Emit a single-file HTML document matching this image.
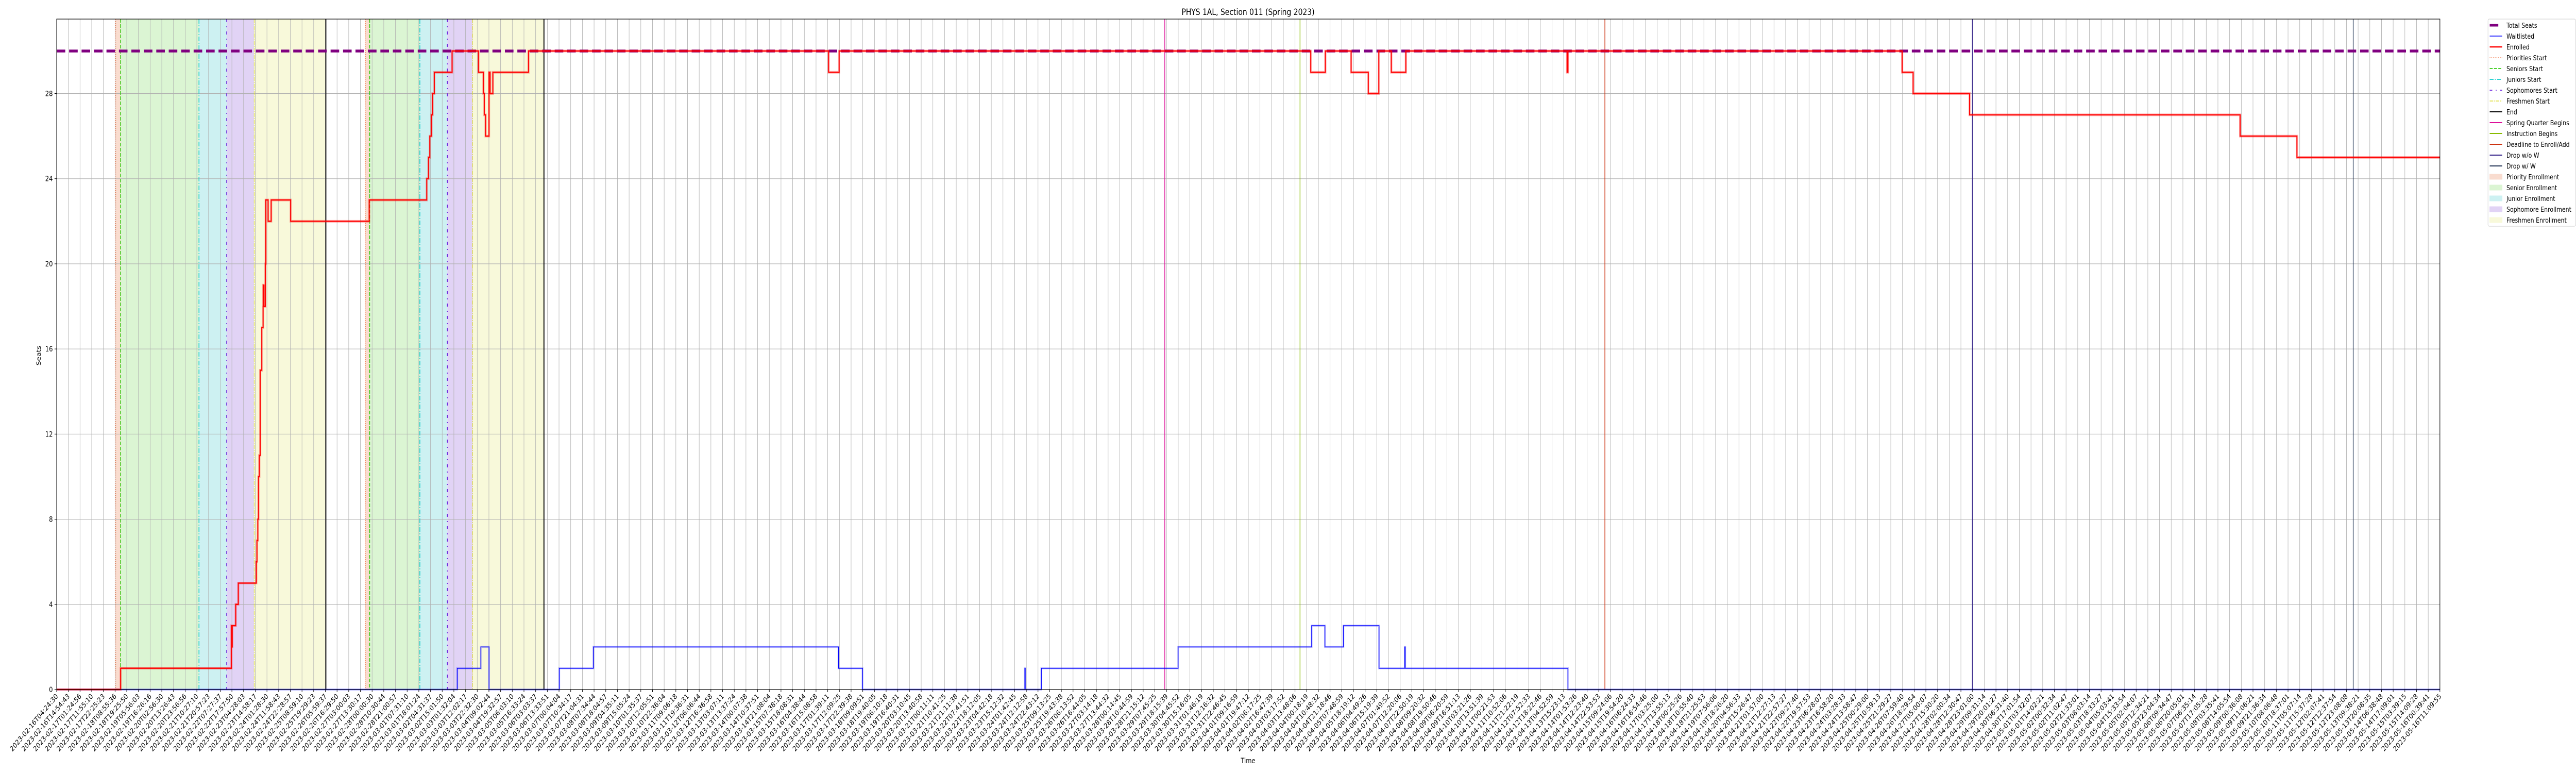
<!DOCTYPE html>
<html><head><meta charset="utf-8">
<style>
html,body{margin:0;padding:0;background:#fff;width:100%;height:100%;overflow:hidden;}
svg{display:block;width:100vw;height:100vh;font-family:"DejaVu Sans","Liberation Sans",sans-serif;}
</style></head>
<body>
<svg id="chart" viewBox="0 0 6000 1500" preserveAspectRatio="none" xmlns="http://www.w3.org/2000/svg" overflow="hidden">
<text x="2907" y="29" font-size="16.7" text-anchor="middle">PHYS 1AL, Section 011 (Spring 2023)</text>
<g id="spans"></g>
<g id="grid"></g>
<g id="events"></g>
<g id="series"></g>
<g id="axes"></g>
<text x="2907" y="1481" font-size="13.9" text-anchor="middle">Time</text>
<text transform="translate(95,690) rotate(-90)" font-size="13.9" text-anchor="middle">Seats</text>
<g id="legend"></g>
</svg>
<script>
// ---- data (hours since 2023-02-16T04:24:30) ----
const totalSeats = 30;
const enrolledTimes = [0,57.52,157.11,157.49,157.88,160.97,163.29,179.50,180.08,180.85,181.43,182.21,182.98,184.41,185.60,185.68,186.45,187.61,187.99,190.11,192.85,210.38,281.02,332.74,334.29,335.45,336.99,337.96,339.54,355.52,379.26,383.70,384.47,385.63,388.72,389.68,392.19,424.23,694.05,703.51,1127.54,1140.67,1163.83,1179.27,1188.73,1199.96,1213.05,1358.0,1358.8,1659.28,1669.13,1719.88,1963.15,2014.22];
const enrolledValues = [0,1,3,2,3,4,5,6,7,8,10,11,15,17,18,19,18,20,23,22,23,22,23,24,25,26,27,28,29,30,29,28,27,26,29,28,29,30,29,30,29,30,29,28,30,29,30,29,30,29,28,27,26,25];
const waitTimes = [0,360.14,381.38,388.72,451.87,482.52,702.94,724.55,870.47,870.86,885.33,1008.28,1128.33,1140.30,1156.89,1188.93,1212.09,1212.48,1358.78];
const waitValues = [0,1,2,0,1,2,1,0,1,0,1,2,3,2,3,1,2,1,0];
const periodNames = ["priority","senior","junior","sophomore","freshmen","priority","senior","junior","sophomore","freshmen"];
const periodStarts = [53.08,57.52,127.96,152.86,177.56,277.54,281.40,326.56,351.27,374.05];
const periodEnds = [57.52,127.96,152.86,177.56,242.03,281.40,326.56,351.27,374.05,438.12];
const endTimes = [242.03,438.12];
const calendarNames = ["spring","instruction","deadline","dropnow","dropw"];
const calendarTimes = [996.3,1117.9,1392.0,1722.4,2064.8];
const yTicks = [0,4,8,12,16,20,24,28];
const tickCount = 205;
const tStartMs = Date.UTC(2023,1,16,4,24,30);
const tEndHours = 2142.757;

// ---- scales ----
const X0=132, X1=5683, Y0=1338, YT=37, YMAX=31.5;
function xs(h){return X0 + h/tEndHours*(X1-X0);}
function ys(v){return Y0 - v/YMAX*(Y0-YT);}
const NS="http://www.w3.org/2000/svg";
function mk(tag,attrs,parent){const e=document.createElementNS(NS,tag);for(const k in attrs)e.setAttribute(k,attrs[k]);parent.appendChild(e);return e;}

const spanColor={priority:"#f9dccf",senior:"#dbf5d3",junior:"#cdf1f2",sophomore:"#e1d3f5",freshmen:"#f8f9da"};
const startStyle={
 priority:{c:"#f07040",d:"1.5,2.5",w:1.5},
 senior:{c:"#33cc11",d:"7,3",w:1.8},
 junior:{c:"#11cccc",d:"9,3,2,3",w:1.8},
 sophomore:{c:"#6a22dd",d:"6,8,2,8",w:1.8},
 freshmen:{c:"#dddd33",d:"8,2,2,2",w:1.2}
};
const spans=document.getElementById('spans');
for(let i=0;i<periodNames.length;i++){
 const r=mk('rect',{x:xs(periodStarts[i]),y:YT,width:xs(periodEnds[i])-xs(periodStarts[i]),height:Y0-YT,fill:spanColor[periodNames[i]]},spans);
 
 
}
const grid=document.getElementById('grid');
const tickHours=[];
for(let i=0;i<tickCount;i++) tickHours.push(i*tEndHours/(tickCount-1));
tickHours.forEach(h=>{
 const l=mk('line',{x1:xs(h),x2:xs(h),y1:YT,y2:Y0,stroke:"#b0b0b0","stroke-width":1},grid);
 
 
});
yTicks.forEach(v=>{
 const l=mk('line',{x1:X0,x2:X1,y1:ys(v),y2:ys(v),stroke:"#b0b0b0","stroke-width":1.1},grid);
 
 
});
const ev=document.getElementById('events');
for(let i=0;i<periodNames.length;i++){
 const s=startStyle[periodNames[i]];
 const l=mk('line',{x1:xs(periodStarts[i]),x2:xs(periodStarts[i]),y1:YT,y2:Y0,stroke:s.c,"stroke-width":s.w,"stroke-dasharray":s.d},ev);
 
 
}
endTimes.forEach(h=>{
 const l=mk('line',{x1:xs(h),x2:xs(h),y1:YT,y2:Y0,stroke:"#000","stroke-width":2.2},ev);
 
 
});
const calColor={spring:"#dd1199",instruction:"#88bb00",deadline:"#cc3311",dropnow:"#332288",dropw:"#223355"};
calendarNames.forEach((n,i)=>{
 const l=mk('line',{x1:xs(calendarTimes[i]),x2:xs(calendarTimes[i]),y1:YT,y2:Y0,stroke:calColor[n],"stroke-width":n==="dropw"?1.5:1.6},ev);
 
 
});
const ser=document.getElementById('series');
function stepPath(ts,vs){
 let d="M"+xs(ts[0])+","+ys(vs[0]);
 for(let i=1;i<ts.length;i++){d+=" L"+xs(ts[i])+","+ys(vs[i-1])+" L"+xs(ts[i])+","+ys(vs[i]);}
 d+=" L"+xs(tEndHours)+","+ys(vs[vs.length-1]);
 return d;
}
const ts=mk('line',{x1:X0,x2:X1,y1:ys(totalSeats),y2:ys(totalSeats),stroke:"#800080","stroke-width":5.5,"stroke-dasharray":"20,9"},ser);


const wd=stepPath(waitTimes,waitValues);
const wh=mk('path',{d:wd,fill:"none",stroke:"#0000ff","stroke-opacity":0.25,"stroke-width":4},ser);


const wl=mk('path',{d:wd,fill:"none",stroke:"#0000ff","stroke-width":1.5},ser);


const ed=stepPath(enrolledTimes,enrolledValues);
const eh=mk('path',{d:ed,fill:"none",stroke:"#ff0000","stroke-opacity":0.3,"stroke-width":5},ser);


const el=mk('path',{d:ed,fill:"none",stroke:"#ff0000","stroke-width":2.3},ser);


const ax=document.getElementById('axes');
const frame=mk('rect',{x:X0,y:YT,width:X1-X0,height:Y0-YT,fill:"none",stroke:"#000","stroke-width":1.2},ax);


yTicks.forEach(v=>{
 const t=mk('line',{x1:X0-5,x2:X0,y1:ys(v),y2:ys(v),stroke:"#000","stroke-width":1.1},ax);
 
 
 const tx=mk('text',{x:X0-9,y:ys(v)+5,"font-size":13.9,"text-anchor":"end"},ax);
 
 
 tx.textContent=String(v);
});
function fmt(ms){return new Date(ms).toISOString().slice(0,19);}
tickHours.forEach(h=>{
 const x=xs(h);
 const t=mk('line',{x1:x,x2:x,y1:Y0,y2:Y0+5,stroke:"#000","stroke-width":1.1},ax);
 
 
 const tx=mk('text',{x:0,y:0,"font-size":13.9,"text-anchor":"end",transform:"translate("+(x+4)+","+(Y0+14)+") rotate(-45)"},ax);
 
 
 tx.textContent=fmt(tStartMs+h*3600000);
});
const lg=document.getElementById('legend');
mk('rect',{x:5795,y:37,width:204,height:402,rx:3,fill:"#fff",stroke:"#cccccc","stroke-width":1},lg);
const items=[
 ["Total Seats","line","#800080",5,null],
 ["Waitlisted","line","#0000ff",1.5,null],
 ["Enrolled","line","#ff0000",2.5,null],
 ["Priorities Start","line","#f07040",1.5,"1.5,2.5"],
 ["Seniors Start","line","#33cc11",1.8,"7,3"],
 ["Juniors Start","line","#11cccc",1.8,"9,3,2,3"],
 ["Sophomores Start","line","#6a22dd",1.8,"6,8,2,8"],
 ["Freshmen Start","line","#dddd33",1.5,"8,2,2,2"],
 ["End","line","#000",2,null],
 ["Spring Quarter Begins","line","#dd1199",2,null],
 ["Instruction Begins","line","#88bb00",2,null],
 ["Deadline to Enroll/Add","line","#cc3311",2,null],
 ["Drop w/o W","line","#332288",2,null],
 ["Drop w/ W","line","#223355",2,null],
 ["Priority Enrollment","rect","#f9dccf"],
 ["Senior Enrollment","rect","#dbf5d3"],
 ["Junior Enrollment","rect","#cdf1f2"],
 ["Sophomore Enrollment","rect","#e1d3f5"],
 ["Freshmen Enrollment","rect","#f8f9da"]
];
items.forEach((it,i)=>{
 const y=49+i*21;
 const g=mk('g',{},lg);
 
 
 if(it[1]==="line"){
  const a={x1:5799,x2:5828,y1:y,y2:y,stroke:it[2],"stroke-width":it[3]};
  if(it[4])a["stroke-dasharray"]=it[4];
  if(i===0){a.x2=5819;}
  mk('line',a,g);
 } else {
  mk('rect',{x:5799,y:y-5,width:29,height:10,fill:it[2],stroke:it[2]},g);
 }
 const t=mk('text',{x:5838,y:y+5,"font-size":13.2},g);
 t.textContent=it[0];
});
</script>
</body></html>
